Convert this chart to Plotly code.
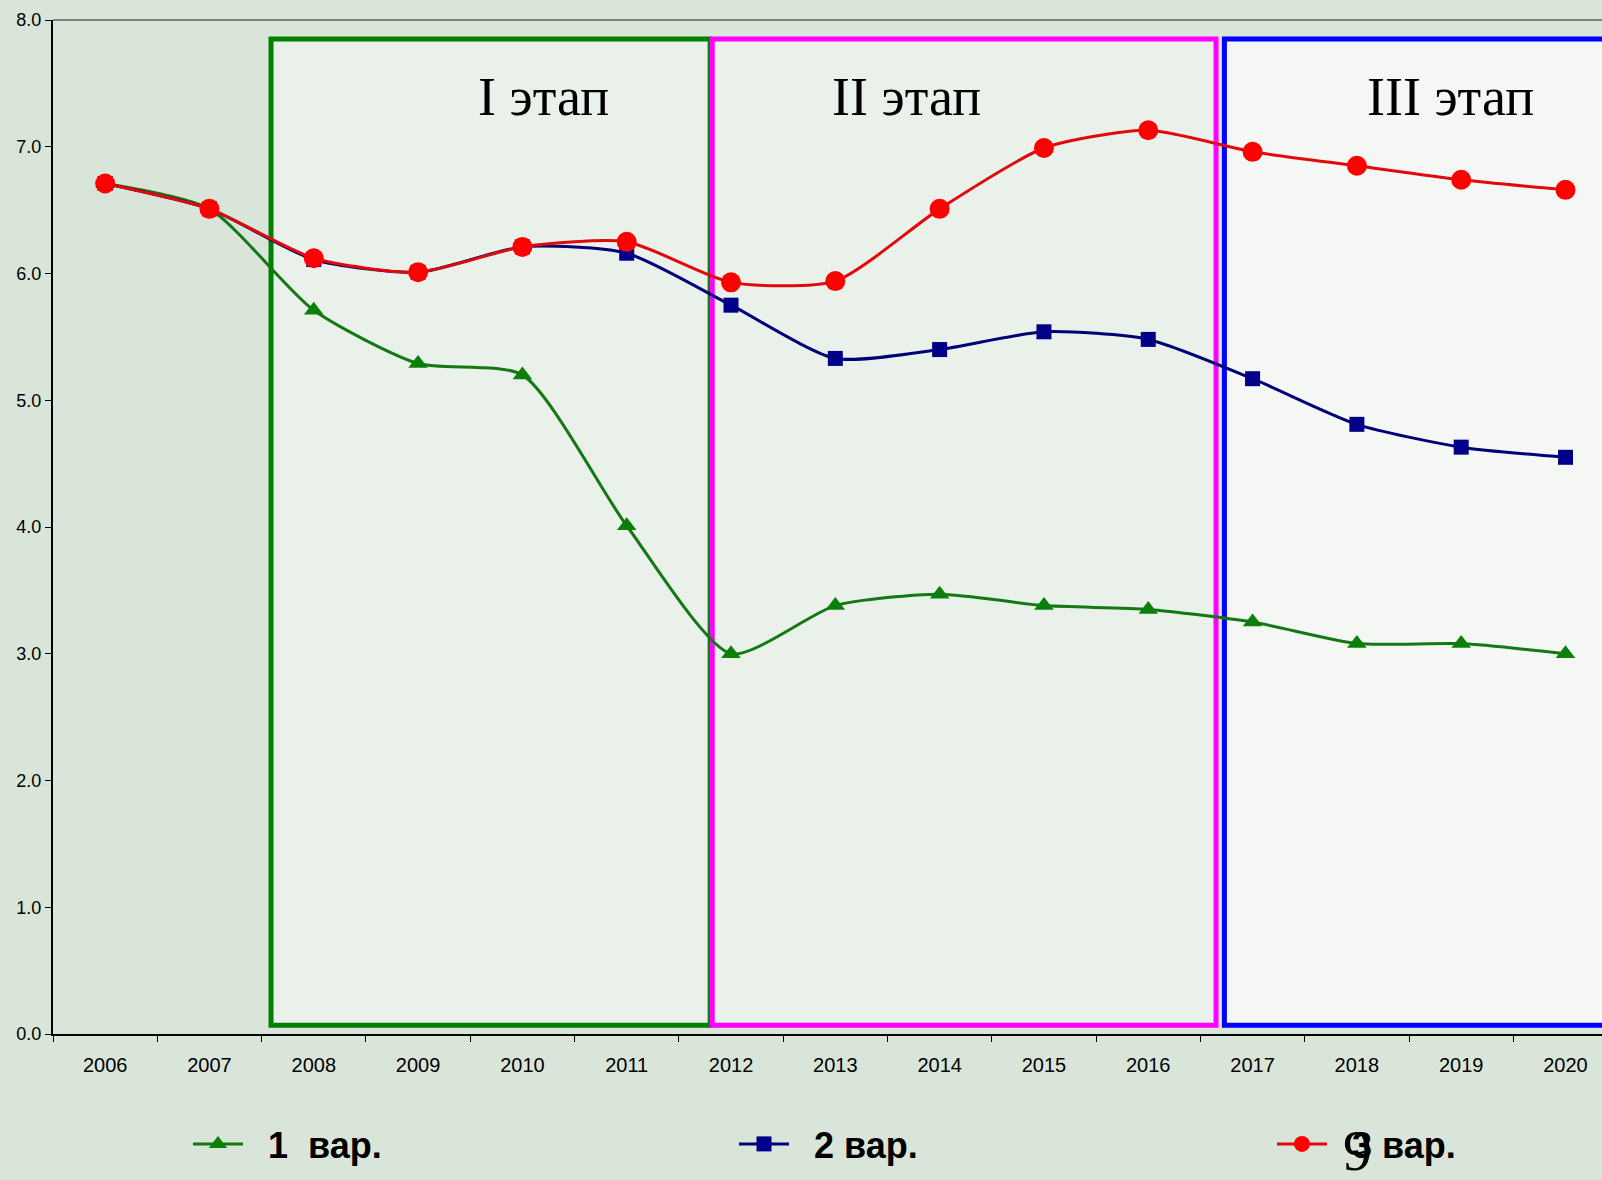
import plotly.graph_objects as go

years = ["2006", "2007", "2008", "2009", "2010", "2011", "2012", "2013",
         "2014", "2015", "2016", "2017", "2018", "2019", "2020"]
var1 = [6.71, 6.51, 5.71, 5.29, 5.20, 4.01, 3.00, 3.38, 3.47, 3.38, 3.35, 3.25, 3.08, 3.08, 3.00]
var2 = [6.71, 6.51, 6.11, 6.01, 6.21, 6.16, 5.75, 5.33, 5.40, 5.54, 5.48, 5.17, 4.81, 4.63, 4.55]
var3 = [6.71, 6.51, 6.12, 6.01, 6.21, 6.25, 5.93, 5.94, 6.51, 6.99, 7.13, 6.96, 6.85, 6.74, 6.66]
names = ["1  вар.", "2 вар.", "3 вар."]
stage_labels = ["I этап", "II этап", "III этап"]
yticks = [0, 1, 2, 3, 4, 5, 6, 7, 8]

BG = "#d9e5d9"
L, T, W, H = 53, 20, 1549, 1014  # plot area in pixels


def px_x(p):
    return (p - L) / W


def px_y(p):
    return (T + H - p) / H


fig = go.Figure()
fig.add_trace(go.Scatter(x=years, y=var1, name="\u00a0\u00a0<b>" + names[0] + "</b>", mode="lines+markers",
                         legend="legend",
                         line=dict(color="#137813", width=3, shape="spline", smoothing=0.65),
                         marker=dict(symbol="triangle-up", size=17, color="#0a800a")))
fig.add_trace(go.Scatter(x=years, y=var2, name="\u00a0\u00a0<b>" + names[1] + "</b>", mode="lines+markers",
                         legend="legend2",
                         line=dict(color="#000078", width=3, shape="spline", smoothing=0.65),
                         marker=dict(symbol="square", size=15, color="#000088")))
fig.add_trace(go.Scatter(x=years, y=var3, name="\u00a0\u00a0<b>" + names[2] + "</b>", mode="lines+markers",
                         legend="legend3",
                         line=dict(color="#e00a0a", width=3, shape="spline", smoothing=0.65),
                         marker=dict(symbol="circle", size=20, color="#ff0000")))

# stage boxes
stages = [
    dict(x0=1.59, x1=5.80, color="#008000", fill="#eaf1ea", label=stage_labels[0], lx=4.20),
    dict(x0=5.82, x1=10.65, color="#ff00ff", fill="#eaf1ea", label=stage_labels[1], lx=7.68),
    dict(x0=10.73, x1=15.5, color="#0000ff", fill="#f5f7f4", label=stage_labels[2], lx=12.90),
]
for s in stages:
    fig.add_shape(type="rect", xref="x", yref="y", x0=s["x0"], x1=s["x1"], y0=0.07, y1=7.85,
                  line=dict(color=s["color"], width=5), fillcolor=s["fill"], layer="below")
    fig.add_annotation(x=s["lx"], y=7.39, xref="x", yref="y", text=s["label"], showarrow=False,
                       font=dict(family="Liberation Serif, Times New Roman, serif", size=54, color="#000000"))

# top border line (gray)
fig.add_shape(type="line", xref="paper", yref="paper", x0=0, x1=1, y0=1, y1=1,
              line=dict(color="#808080", width=2))

# slide number
fig.add_annotation(x=px_x(1357), y=px_y(1150), xref="paper", yref="paper", text="9", showarrow=False,
                   xanchor="center", yanchor="middle",
                   font=dict(family="Liberation Serif, serif", size=58, color="#000000"))

leg_font = dict(family="Liberation Sans, Arial, sans-serif", size=36, color="#000000")
leg_common = dict(orientation="h", xanchor="left", yanchor="middle", bgcolor="rgba(0,0,0,0)",
                  font=leg_font, itemwidth=50)

fig.update_layout(
    width=1602, height=1180,
    margin=dict(l=L, r=0, t=T, b=1180 - T - H),
    paper_bgcolor=BG, plot_bgcolor=BG,
    showlegend=True,
    legend=dict(x=px_x(188), y=px_y(1144), **leg_common),
    legend2=dict(x=px_x(734), y=px_y(1144), **leg_common),
    legend3=dict(x=px_x(1272), y=px_y(1144), **leg_common),
    xaxis=dict(type="category", range=[-0.5, 14.35], tickson="boundaries",
               ticks="outside", ticklen=6, tickcolor="#000000", ticklabelstandoff=12,
               showline=True, linecolor="#000000", linewidth=2, showgrid=False, zeroline=False,
               tickfont=dict(family="Liberation Sans, Arial, sans-serif", size=20, color="#000000")),
    yaxis=dict(range=[0, 8], tickvals=yticks, ticktext=[f"{v:.1f}" for v in yticks],
               ticks="outside", ticklen=6, tickcolor="#000000",
               showline=True, linecolor="#000000", linewidth=2, showgrid=False, zeroline=False,
               tickfont=dict(family="Liberation Sans, Arial, sans-serif", size=18, color="#000000")),
)

fig.write_html("out.html", config={"displayModeBar": False},
               post_script="document.body.style.margin='0';document.body.style.overflow='hidden';"
                           "document.body.style.background='" + BG + "';")
